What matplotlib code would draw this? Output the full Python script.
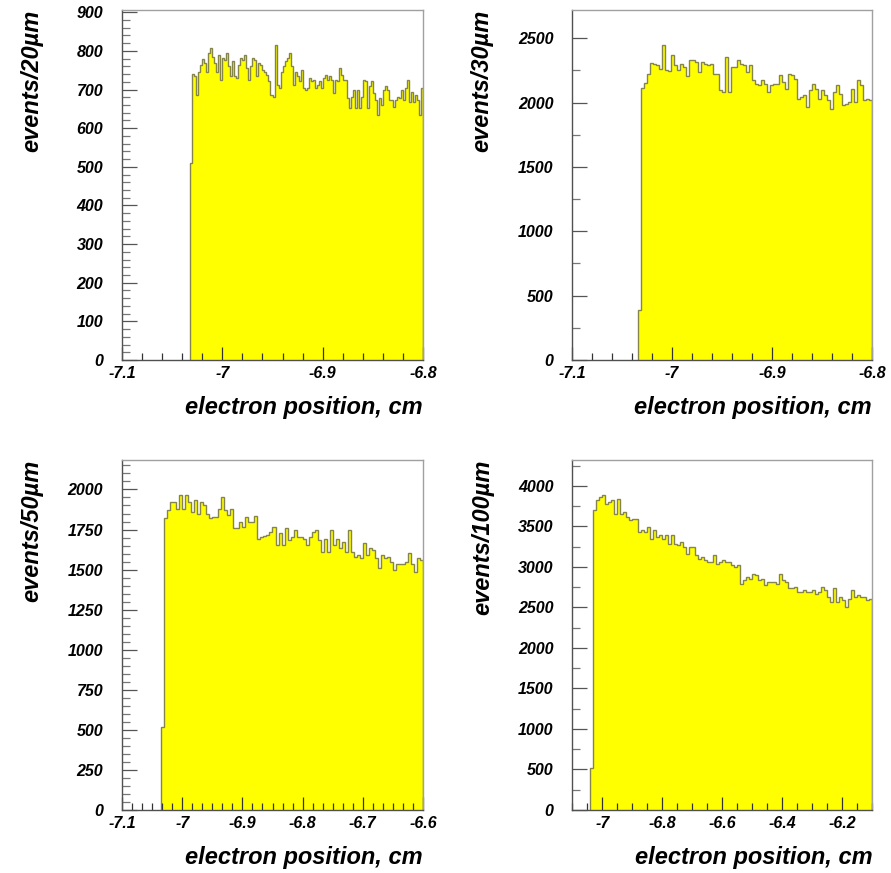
import numpy as np
import matplotlib
matplotlib.use("Agg")
import matplotlib.pyplot as plt
from matplotlib.ticker import MultipleLocator, FuncFormatter

plt.rcParams['font.family'] = ['Liberation Sans', 'DejaVu Sans']
plt.rcParams['axes.unicode_minus'] = False

# counts per bin, starting at the first non-empty bin
counts_20um = [509, 740, 735, 686, 746, 764, 778, 768, 746, 794,
               807, 785, 770, 746, 790, 725, 781, 777, 794, 760,
               734, 773, 734, 729, 764, 781, 777, 790, 755, 725,
               760, 781, 777, 734, 768, 764, 751, 746, 738, 721,
               686, 682, 816, 712, 703, 746, 760, 773, 781, 794,
               760, 712, 746, 734, 721, 751, 703, 699, 703, 729,
               721, 725, 703, 712, 721, 703, 729, 738, 725, 734,
               725, 690, 725, 721, 755, 738, 725, 725, 677, 652,
               682, 699, 652, 699, 652, 682, 725, 721, 652, 708,
               721, 690, 673, 634, 677, 660, 699, 708, 699, 673,
               673, 656, 673, 682, 677, 699, 673, 703, 725, 669,
               695, 669, 686, 673, 634, 703]

counts_30um = [388, 2115, 2151, 2219, 2307, 2300, 2289, 2263, 2449, 2255,
               2245, 2366, 2290, 2255, 2301, 2276, 2203, 2327, 2327, 2314,
               2237, 2314, 2301, 2289, 2301, 2224, 2224, 2095, 2082, 2353,
               2082, 2276, 2276, 2327, 2301, 2289, 2237, 2289, 2172, 2146,
               2134, 2172, 2146, 2082, 2134, 2146, 2146, 2211, 2159, 2108,
               2224, 2211, 2185, 2030, 2043, 2056, 1965, 2095, 2146, 2108,
               2030, 2095, 2056, 2017, 1952, 2082, 2134, 2069, 1978, 1991,
               2004, 2108, 2004, 2172, 2134, 2017, 2030, 2017]

counts_50um = [515, 1819, 1871, 1923, 1923, 1881, 1965, 1881, 1965, 1923,
               1861, 1933, 1850, 1923, 1902, 1850, 1819, 1830, 1830, 1881,
               1954, 1871, 1840, 1881, 1757, 1757, 1798, 1767, 1830, 1798,
               1798, 1834, 1694, 1705, 1709, 1715, 1736, 1767, 1653, 1726,
               1653, 1757, 1684, 1705, 1746, 1705, 1705, 1694, 1653, 1705,
               1736, 1746, 1684, 1611, 1694, 1611, 1746, 1653, 1694, 1632,
               1674, 1611, 1746, 1611, 1580, 1590, 1570, 1663, 1590, 1632,
               1622, 1570, 1507, 1590, 1570, 1580, 1549, 1497, 1538, 1538,
               1538, 1549, 1601, 1538, 1486, 1570, 1559]

counts_100um = [514, 3700, 3823, 3864, 3885, 3782, 3803, 3823, 3659, 3844,
                3659, 3679, 3618, 3577, 3597, 3597, 3433, 3453, 3433, 3494,
                3350, 3453, 3371, 3392, 3350, 3392, 3289, 3392, 3289, 3268,
                3309, 3247, 3165, 3247, 3247, 3145, 3104, 3124, 3083, 3063,
                3063, 3145, 3042, 3063, 3083, 3063, 3063, 3021, 3001, 3021,
                2795, 2836, 2877, 2857, 2918, 2898, 2836, 2857, 2775, 2816,
                2816, 2816, 2795, 2918, 2836, 2816, 2734, 2734, 2754, 2693,
                2693, 2713, 2693, 2693, 2713, 2672, 2693, 2754, 2713, 2631,
                2569, 2734, 2569, 2631, 2590, 2508, 2610, 2713, 2631, 2652,
                2631, 2631, 2590, 2600]

first_edge = [-7.032, -7.034, -7.035, -7.04]
bin_width = [0.002, 0.003, 0.005, 0.01]
x_ranges = [(-7.1, -6.8), (-7.1, -6.8), (-7.1, -6.6), (-7.1, -6.1)]
y_tops = [906, 2723, 2187, 4326]
y_titles = ['events/20µm', 'events/30µm', 'events/50µm', 'events/100µm']
x_title = 'electron position, cm'

W, H = 891, 873
fig = plt.figure(figsize=(W / 100, H / 100), dpi=100)

# frame boxes in pixels: left, top, right, bottom
boxes = [(122, 10, 423, 360), (572, 9.5, 872, 360),
         (122, 459.5, 423, 810), (572.3, 459.5, 872.3, 810)]
x_major = [0.1, 0.1, 0.1, 0.2]
x_minor = [0.02, 0.02, 0.1 / 6, 0.05]
y_major = [100, 500, 250, 500]
y_minor = [20, 250, 50, 250]

all_counts = [counts_20um, counts_30um, counts_50um, counts_100um]

lab_font = dict(fontweight='bold', fontstyle='italic')

for i, counts in enumerate(all_counts):
    l, t, r, b = boxes[i]
    ax = fig.add_axes([l / W, 1 - b / H, (r - l) / W, (b - t) / H])
    vals = np.array(counts, dtype=float)
    edges = first_edge[i] + bin_width[i] * np.arange(len(vals) + 1)
    ax.stairs(vals, edges, fill=True, color='#ffff00', zorder=1)
    ax.stairs(vals, edges, fill=False, color='#85854a', linewidth=1.0,
              baseline=0, zorder=1.5)
    ax.set_xlim(*x_ranges[i])
    ax.set_ylim(0, y_tops[i])

    ax.xaxis.set_major_locator(MultipleLocator(x_major[i]))
    ax.xaxis.set_minor_locator(MultipleLocator(x_minor[i]))
    ax.yaxis.set_major_locator(MultipleLocator(y_major[i]))
    ax.yaxis.set_minor_locator(MultipleLocator(y_minor[i]))
    ax.xaxis.set_major_formatter(FuncFormatter(lambda v, p: f'{round(v, 3):g}'))
    ax.yaxis.set_major_formatter(FuncFormatter(lambda v, p: f'{int(round(v))}'))

    ax.tick_params(axis='x', which='major', direction='in', length=9.5,
                   width=0.9, color='#333333', pad=4, labelsize=11.5)
    ax.tick_params(axis='x', which='minor', direction='in', length=5,
                   width=0.9, color='#333333')
    ax.tick_params(axis='y', which='major', direction='in', length=11,
                   width=0.9, color='#555555', pad=13.5, labelsize=11.5)
    ax.tick_params(axis='y', which='minor', direction='in', length=5.5,
                   width=0.9, color='#777777')
    for lab in ax.get_xticklabels() + ax.get_yticklabels():
        lab.set_fontweight('bold')
        lab.set_fontstyle('italic')

    for side in ('top', 'right'):
        ax.spines[side].set_color('#a0a0a0')
        ax.spines[side].set_linewidth(1.0)
    for side in ('left', 'bottom'):
        ax.spines[side].set_color('#505050')
        ax.spines[side].set_linewidth(1.0)

    fig.text((l - 90) / W, 1 - t / H, y_titles[i], rotation=90,
             ha='center', va='top', fontsize=17, **lab_font)
    fig.text(r / W, 1 - (b + 36) / H, x_title, ha='right', va='top',
             fontsize=17, **lab_font)

fig.savefig('out.png', dpi=100)
